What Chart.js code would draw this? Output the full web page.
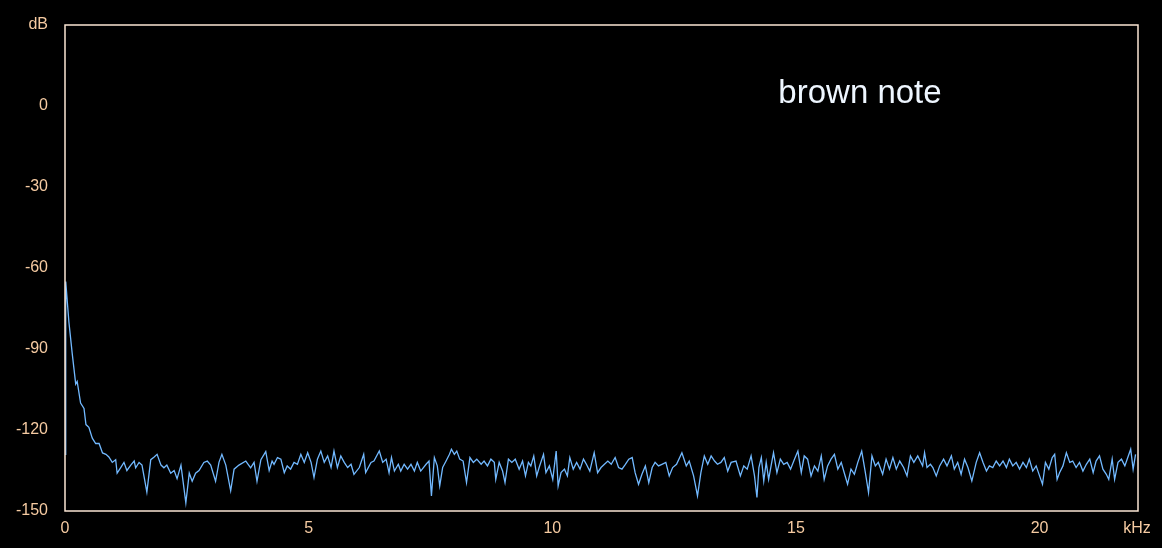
<!DOCTYPE html>
<html>
<head>
<meta charset="utf-8">
<script src="https://cdn.jsdelivr.net/npm/chart.js@4.4.0/dist/chart.umd.min.js"></script>
<style>
  html, body { margin:0; padding:0; background:#000; }
  #wrap { width:1162px; height:548px; }
</style>
</head>
<body>
<div id="wrap"><canvas id="spectrum"></canvas></div>
<script>
// spectrum: frequency (kHz) and level (dB)
const freqKHz = [
  0.00, 0.01, 0.02, 0.08, 0.15, 0.22, 0.25, 0.32, 0.39, 0.43, 0.49, 0.56, 0.63, 0.70, 0.77, 0.84, 0.90, 0.97,
  1.04, 1.07, 1.14, 1.21, 1.27, 1.35, 1.42, 1.45, 1.52, 1.58, 1.68, 1.76, 1.83, 1.89, 1.97, 2.03, 2.09, 2.17,
  2.24, 2.30, 2.38, 2.48, 2.55, 2.61, 2.68, 2.75, 2.85, 2.92, 2.99, 3.09, 3.16, 3.22, 3.30, 3.40, 3.47, 3.57,
  3.71, 3.81, 3.88, 3.94, 4.02, 4.12, 4.19, 4.25, 4.29, 4.36, 4.43, 4.50, 4.56, 4.63, 4.70, 4.77, 4.84, 4.91,
  4.98, 5.05, 5.11, 5.18, 5.25, 5.32, 5.39, 5.46, 5.52, 5.59, 5.66, 5.73, 5.80, 5.87, 5.93, 6.04, 6.13, 6.17,
  6.28, 6.34, 6.45, 6.52, 6.59, 6.65, 6.70, 6.76, 6.84, 6.89, 6.96, 7.03, 7.10, 7.17, 7.23, 7.30, 7.41, 7.47,
  7.52, 7.58, 7.64, 7.69, 7.75, 7.82, 7.89, 7.93, 7.99, 8.04, 8.10, 8.17, 8.24, 8.31, 8.38, 8.45, 8.54, 8.60,
  8.67, 8.74, 8.81, 8.84, 8.91, 8.98, 9.03, 9.10, 9.17, 9.24, 9.32, 9.39, 9.45, 9.51, 9.56, 9.62, 9.68, 9.73,
  9.82, 9.87, 9.94, 10.01, 10.08, 10.12, 10.18, 10.25, 10.31, 10.36, 10.43, 10.50, 10.57, 10.64, 10.70, 10.77,
  10.86, 10.93, 11.00, 11.07, 11.14, 11.21, 11.29, 11.36, 11.43, 11.50, 11.57, 11.64, 11.70, 11.77, 11.84,
  11.91, 11.98, 12.05, 12.11, 12.18, 12.25, 12.33, 12.40, 12.47, 12.55, 12.66, 12.75, 12.81, 12.90, 12.98,
  13.05, 13.12, 13.19, 13.26, 13.33, 13.39, 13.46, 13.53, 13.60, 13.67, 13.77, 13.86, 13.93, 14.00, 14.08,
  14.15, 14.20, 14.24, 14.29, 14.34, 14.39, 14.44, 14.49, 14.54, 14.61, 14.68, 14.75, 14.82, 14.89, 14.97,
  15.04, 15.11, 15.17, 15.24, 15.31, 15.38, 15.45, 15.52, 15.58, 15.65, 15.72, 15.79, 15.86, 15.93, 16.00,
  16.06, 16.13, 16.20, 16.27, 16.35, 16.42, 16.49, 16.56, 16.63, 16.69, 16.78, 16.85, 16.92, 16.99, 17.06,
  17.13, 17.21, 17.28, 17.35, 17.42, 17.50, 17.60, 17.64, 17.69, 17.76, 17.81, 17.88, 17.95, 18.03, 18.10,
  18.19, 18.25, 18.32, 18.39, 18.46, 18.53, 18.61, 18.70, 18.77, 18.84, 18.91, 18.97, 19.04, 19.11, 19.18,
  19.25, 19.32, 19.38, 19.45, 19.52, 19.59, 19.66, 19.73, 19.79, 19.86, 19.93, 20.00, 20.06, 20.12, 20.19,
  20.26, 20.31, 20.36, 20.41, 20.48, 20.55, 20.62, 20.68, 20.75, 20.82, 20.89, 20.96, 21.03, 21.10, 21.16,
  21.23, 21.30, 21.37, 21.42, 21.49, 21.54, 21.61, 21.68, 21.75, 21.81, 21.87, 21.92, 21.97
];
const levelDb = [
  -129, -86, -65, -80, -92, -103, -102, -110, -112, -118, -119, -123, -125, -125, -128.5, -129, -130, -132,
  -131, -136, -134, -132, -135, -133, -131.5, -134, -132, -133, -143, -131, -130, -129, -133, -134, -133, -136,
  -135, -138, -133, -147, -136, -139, -136, -135, -132, -131.5, -133, -139, -132, -129, -133, -142.5, -134.5, -133,
  -131.5, -134, -132, -139, -131, -128, -135, -131.5, -132.7, -130.2, -130.8, -135.8, -133.3, -134.5, -132, -132.7, -129, -132,
  -128.4, -132, -137.6, -130.8, -127.8, -132, -129.6, -133.9, -127.8, -133.9, -129.6, -132, -133.9, -132.7, -136.4, -133.9, -129, -135.8,
  -132, -131.5, -127.8, -132, -130.8, -135.8, -130.2, -135.2, -132.7, -135.2, -132.7, -134.5, -132.7, -135.2, -132, -135.2, -132.7, -131.5,
  -144.4, -130.2, -133.3, -140.7, -133.9, -131.5, -129, -127.1, -129, -127.8, -130.8, -131.5, -139.5, -130.2, -132, -130.8, -132.7, -131.5,
  -133.3, -130.8, -132, -138.3, -132, -135.2, -139.5, -130.8, -132, -130.8, -134.5, -131.5, -137, -132, -133.3, -129.6, -137, -133.9,
  -129, -135.8, -133.3, -138.3, -127.8, -140.7, -135.8, -134.5, -137, -130.2, -134.5, -132, -134.5, -130.8, -132.7, -135.2,
  -128.4, -135.8, -133.9, -132.7, -131.5, -132.7, -130.2, -133.9, -134.5, -132.7, -130.8, -130.2, -135.8, -140.1, -136.4,
  -133.3, -139.5, -133.9, -132, -133.3, -132.7, -132, -137, -133.9, -132.7, -128.4, -133.3, -131.5, -137, -144.4,
  -135.8, -129.6, -132.7, -129.6, -131.5, -132.7, -132, -130.2, -135.2, -132, -131.5, -137, -133.3, -134.5, -129.6,
  -137, -145, -133.9, -130.2, -138.9, -132, -138.3, -133.3, -128.4, -135.8, -130.8, -132.7, -132, -134.5, -130.8,
  -127.8, -135.8, -129.6, -130.8, -137, -133.3, -135.2, -129.6, -138.3, -133.3, -130.8, -129, -134.5, -132, -136.4,
  -140.1, -134.5, -136.4, -132, -127.8, -135.2, -143.2, -129.6, -133.3, -132, -136.4, -130.8, -134.5, -130.2, -134.5,
  -131.5, -133.9, -137, -129.6, -132, -129.6, -133.3, -128.4, -133.9, -132.7, -133.9, -137, -133.3, -130.8, -133.3,
  -129.6, -134.5, -132, -136.4, -130.8, -133.9, -138.9, -132, -128.4, -132, -135.2, -133.3, -133.9, -131.5, -133.3,
  -131.5, -133.9, -130.8, -133.3, -132, -134.5, -132, -133.9, -130.8, -135.2, -133.3, -137, -140.1, -132, -134.5,
  -130.2, -129, -138.3, -135.8, -133.3, -128.4, -132, -131.5, -133.9, -132, -135.2, -132.7, -130.8, -135.8, -131.5,
  -129.6, -134.5, -136.4, -138.3, -130.8, -138.3, -132, -130.8, -133.3, -130.2, -127.1, -134.5, -129
];
const xTickValues = [0, 5, 10, 15, 20, 22];
const xTickLabels = ['0', '5', '10', '15', '20', 'kHz'];
const yTickValues = [30, 0, -30, -60, -90, -120, -150];
const yTickLabels = ['dB', '0', '-30', '-60', '-90', '-120', '-150'];
const chartTitle = 'brown note';

const points = freqKHz.map((f, i) => ({ x: f, y: levelDb[i] }));
const tickColor = '#f6cba2';
const frameColor = '#fbe6d4';

const framePlugin = {
  id: 'frame',
  beforeDraw(chart) {
    const c = chart.ctx;
    c.save();
    c.fillStyle = '#000';
    c.fillRect(0, 0, chart.width, chart.height);
    c.restore();
  },
  afterDraw(chart) {
    const c = chart.ctx, a = chart.chartArea;
    c.save();
    c.strokeStyle = frameColor;
    c.lineWidth = 1.5;
    c.strokeRect(a.left, a.top, a.right - a.left, a.bottom - a.top);
    c.fillStyle = '#eef6ff';
    c.font = '33px "Liberation Sans", Arial, sans-serif';
    c.textAlign = 'center';
    c.textBaseline = 'alphabetic';
    c.fillText(chartTitle, 860, 103);
    c.restore();
  }
};

new Chart(document.getElementById('spectrum'), {
  type: 'line',
  data: { datasets: [{ data: points, borderColor: '#72b9ff', borderWidth: 1.3, pointRadius: 0, tension: 0, fill: false }] },
  options: {
    responsive: true,
    maintainAspectRatio: false,
    animation: false,
    layout: { padding: { left: 0, top: 25, right: 24, bottom: 0 } },
    plugins: { legend: { display: false }, tooltip: { enabled: false } },
    scales: {
      x: {
        type: 'linear', min: 0, max: 22.02,
        grid: { display: false },
        border: { display: false },
        afterBuildTicks: s => { s.ticks = xTickValues.map(v => ({ value: v })); },
        afterFit: s => { s.height = 37; },
        ticks: {
          color: tickColor, padding: 0, maxRotation: 0, autoSkip: false,
          font: { family: '"Liberation Sans", Arial, sans-serif', size: 16 },
          callback: v => xTickLabels[xTickValues.indexOf(v)]
        }
      },
      y: {
        min: -150, max: 30,
        grid: { display: false },
        border: { display: false },
        afterBuildTicks: s => { s.ticks = yTickValues.map(v => ({ value: v })); },
        afterFit: s => { s.width = 65; },
        ticks: {
          color: tickColor, padding: 9, autoSkip: false,
          font: { family: '"Liberation Sans", Arial, sans-serif', size: 16 },
          callback: v => yTickLabels[yTickValues.indexOf(v)]
        }
      }
    }
  },
  plugins: [framePlugin]
});
</script>
</body>
</html>
